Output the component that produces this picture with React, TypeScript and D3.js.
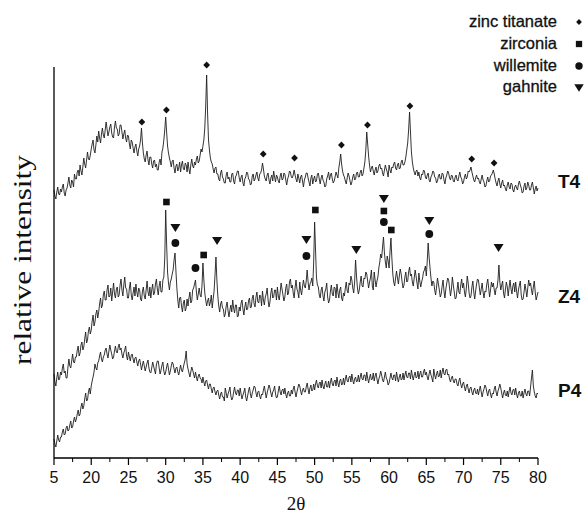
import React from 'react';
import * as d3 from 'd3';

// 2θ grid of the recorded traces
const THETA_START = 15;
const THETA_STEP = 0.125;

// Relative intensity (arbitrary units, traces already stacked), 8 samples per degree
const t4Values = [
  268, 262, 259, 266, 271, 264, 263, 269,
  266, 271, 274, 265, 262, 268, 270, 275,
  281, 273, 270, 278, 276, 271, 284, 279,
  279, 286, 288, 282, 293, 287, 283, 291,
  300, 294, 290, 298, 306, 299, 298, 303,
  309, 314, 318, 308, 305, 313, 322, 316,
  327, 320, 315, 324, 330, 323, 320, 328,
  336, 329, 322, 326, 331, 334, 325, 321,
  320, 331, 337, 330, 329, 322, 324, 333,
  333, 326, 319, 324, 328, 320, 316, 323,
  322, 314, 309, 318, 316, 310, 305, 311,
  314, 307, 302, 309, 312, 318, 330, 315,
  305, 299, 296, 303, 307, 298, 293, 301,
  301, 294, 290, 297, 298, 291, 294, 288,
  288, 296, 299, 293, 306, 310, 318, 328,
  341, 326, 312, 305, 300, 296, 291, 297,
  298, 290, 285, 292, 294, 287, 290, 296,
  286, 293, 297, 289, 288, 295, 293, 286,
  296, 289, 284, 293, 299, 292, 290, 296,
  293, 299, 302, 295, 297, 303, 309, 306,
  312, 318, 330, 352, 383, 345, 318, 308,
  300, 296, 294, 289, 285, 290, 291, 284,
  284, 279, 277, 285, 288, 281, 279, 275,
  275, 283, 286, 279, 281, 276, 276, 284,
  285, 277, 274, 281, 283, 287, 287, 280,
  276, 281, 283, 275, 272, 279, 281, 286,
  285, 279, 278, 273, 274, 282, 284, 277,
  279, 283, 286, 280, 277, 284, 285, 288,
  295, 289, 282, 279, 277, 283, 285, 278,
  274, 280, 283, 277, 287, 281, 276, 283,
  281, 277, 275, 282, 285, 278, 279, 285,
  284, 278, 273, 279, 282, 287, 286, 281,
  280, 283, 288, 283, 279, 276, 284, 280,
  275, 281, 283, 277, 271, 278, 281, 285,
  285, 280, 276, 272, 280, 283, 274, 279,
  282, 276, 277, 284, 285, 279, 274, 280,
  283, 278, 276, 271, 272, 279, 282, 286,
  278, 283, 285, 279, 275, 277, 281, 286,
  283, 280, 290, 296, 304, 294, 287, 283,
  281, 277, 274, 280, 285, 282, 277, 273,
  276, 281, 284, 278, 279, 285, 286, 281,
  281, 286, 288, 282, 284, 290, 296, 308,
  326, 314, 302, 293, 286, 290, 292, 287,
  283, 288, 291, 285, 287, 292, 294, 289,
  290, 285, 282, 288, 293, 289, 286, 281,
  293, 288, 285, 291, 290, 294, 296, 290,
  288, 293, 295, 289, 290, 296, 298, 293,
  293, 296, 301, 308, 315, 328, 346, 326,
  306, 296, 290, 286, 283, 287, 288, 282,
  286, 280, 278, 284, 283, 288, 287, 281,
  279, 283, 285, 278, 276, 281, 283, 287,
  286, 281, 280, 275, 277, 282, 284, 279,
  279, 285, 284, 278, 274, 280, 283, 287,
  285, 280, 278, 283, 282, 277, 276, 281,
  283, 278, 277, 282, 286, 281, 279, 274,
  276, 281, 284, 279, 281, 287, 286, 288,
  291, 286, 282, 278, 276, 280, 283, 279,
  280, 276, 274, 279, 283, 278, 276, 271,
  272, 277, 281, 276, 277, 282, 283, 285,
  288, 284, 279, 275, 272, 277, 280, 274,
  270, 275, 278, 272, 273, 269, 267, 273,
  276, 271, 269, 275, 274, 268, 266, 271,
  273, 270, 268, 274, 277, 273, 270, 265,
  266, 272, 275, 268, 270, 276, 273, 268,
  268, 273, 276, 270, 264, 269, 272, 267,
  270,
];

const z4Values = [
  84, 76, 72, 80, 86, 78, 79, 86,
  83, 90, 94, 85, 87, 80, 80, 91,
  99, 92, 90, 97, 104, 96, 95, 101,
  101, 108, 112, 102, 105, 113, 116, 108,
  111, 119, 126, 115, 118, 127, 131, 124,
  128, 137, 143, 132, 136, 144, 148, 140,
  146, 154, 160, 150, 153, 163, 167, 158,
  158, 168, 173, 161, 162, 170, 157, 166,
  175, 164, 160, 169, 171, 161, 163, 173,
  179, 168, 162, 173, 181, 170, 169, 160,
  160, 170, 176, 163, 158, 165, 171, 162,
  174, 166, 161, 170, 168, 159, 157, 167,
  171, 162, 159, 168, 177, 166, 162, 171,
  160, 168, 174, 163, 165, 174, 179, 169,
  163, 172, 177, 166, 166, 178, 181, 200,
  248, 214, 186, 175, 168, 176, 179, 184,
  188, 198, 205, 187, 170, 158, 150, 160,
  161, 152, 146, 155, 158, 147, 150, 159,
  152, 160, 166, 155, 157, 168, 170, 174,
  178, 166, 158, 164, 170, 163, 161, 172,
  195, 178, 165, 158, 152, 157, 160, 152,
  156, 163, 150, 159, 167, 183, 201, 178,
  162, 152, 146, 154, 157, 150, 149, 141,
  144, 152, 156, 147, 141, 148, 153, 146,
  158, 150, 145, 153, 153, 141, 142, 151,
  147, 155, 158, 149, 143, 151, 156, 148,
  149, 157, 160, 150, 151, 160, 163, 154,
  151, 161, 166, 156, 155, 163, 162, 152,
  167, 158, 153, 161, 164, 170, 158, 151,
  156, 165, 170, 160, 161, 168, 168, 158,
  171, 162, 158, 166, 175, 169, 163, 157,
  161, 170, 174, 163, 165, 176, 179, 170,
  173, 165, 160, 170, 178, 169, 166, 160,
  176, 168, 163, 171, 178, 172, 170, 177,
  188, 176, 168, 174, 176, 180, 172, 196,
  236, 208, 180, 173, 171, 163, 160, 168,
  171, 162, 157, 166, 169, 175, 161, 155,
  158, 167, 173, 164, 162, 171, 170, 160,
  174, 166, 160, 168, 171, 160, 157, 165,
  162, 170, 176, 167, 165, 175, 173, 182,
  178, 170, 165, 176, 198, 182, 170, 164,
  168, 176, 182, 172, 171, 180, 179, 186,
  184, 177, 170, 176, 180, 188, 172, 168,
  186, 178, 171, 177, 181, 190, 196, 204,
  200, 211, 221, 205, 196, 190, 202, 197,
  190, 206, 220, 200, 184, 176, 172, 180,
  187, 180, 174, 182, 189, 184, 176, 170,
  173, 181, 186, 176, 177, 186, 191, 182,
  184, 176, 172, 180, 188, 182, 175, 169,
  185, 177, 171, 176, 180, 186, 188, 192,
  182, 197, 215, 201, 190, 180, 172, 177,
  176, 168, 163, 171, 180, 174, 168, 161,
  164, 172, 178, 167, 160, 169, 175, 180,
  178, 170, 162, 169, 181, 173, 166, 159,
  160, 168, 176, 166, 164, 173, 179, 170,
  175, 166, 161, 170, 182, 175, 165, 160,
  162, 171, 177, 166, 159, 167, 174, 179,
  178, 170, 163, 169, 175, 166, 160, 167,
  166, 174, 179, 170, 161, 168, 176, 171,
  175, 168, 163, 170, 170, 178, 193, 176,
  168, 173, 177, 165, 160, 169, 176, 171,
  162, 171, 178, 169, 164, 172, 175, 166,
  176, 167, 160, 168, 173, 177, 163, 158,
  159, 166, 174, 168, 161, 170, 178, 172,
  175, 168, 163, 171, 177, 166, 158, 162,
  166,
];

const p4Values = [
  19, 14, 11, 17, 23, 18, 16, 21,
  21, 26, 29, 23, 24, 30, 32, 27,
  28, 33, 37, 30, 31, 37, 41, 36,
  39, 44, 48, 42, 44, 51, 55, 49,
  52, 59, 65, 57, 58, 66, 70, 64,
  72, 77, 81, 86, 94, 90, 88, 95,
  97, 102, 106, 99, 96, 101, 103, 108,
  110, 104, 100, 107, 113, 108, 104, 99,
  101, 107, 112, 106, 105, 111, 114, 108,
  110, 104, 100, 105, 108, 112, 102, 98,
  106, 101, 97, 103, 104, 99, 95, 100,
  101, 96, 92, 97, 99, 94, 88, 93,
  97, 92, 87, 91, 95, 98, 90, 86,
  85, 90, 96, 92, 88, 84, 93, 97,
  97, 90, 84, 88, 93, 96, 87, 83,
  86, 91, 95, 89, 83, 87, 92, 96,
  94, 89, 85, 90, 91, 86, 83, 88,
  93, 88, 86, 91, 95, 99, 107, 94,
  89, 85, 81, 86, 91, 88, 84, 80,
  86, 81, 77, 82, 84, 80, 79, 75,
  81, 76, 72, 77, 78, 73, 69, 74,
  74, 69, 65, 70, 71, 66, 63, 67,
  68, 63, 59, 64, 66, 61, 61, 57,
  70, 65, 60, 64, 67, 71, 62, 58,
  60, 66, 71, 65, 63, 68, 68, 62,
  70, 64, 59, 63, 66, 70, 61, 57,
  62, 67, 71, 64, 60, 65, 68, 72,
  71, 65, 61, 66, 67, 62, 59, 64,
  63, 68, 72, 66, 60, 65, 69, 73,
  70, 65, 61, 66, 68, 72, 64, 60,
  61, 67, 72, 66, 63, 68, 69, 64,
  70, 64, 60, 65, 67, 62, 62, 68,
  64, 69, 72, 66, 61, 66, 70, 74,
  72, 67, 63, 68, 70, 66, 66, 71,
  75, 69, 64, 70, 73, 67, 68, 74,
  68, 74, 78, 72, 70, 75, 76, 70,
  78, 72, 69, 74, 77, 71, 71, 77,
  70, 76, 80, 74, 72, 77, 78, 72,
  81, 75, 71, 77, 79, 73, 74, 80,
  73, 79, 83, 77, 76, 81, 82, 76,
  84, 78, 74, 79, 81, 76, 77, 83,
  76, 81, 85, 79, 78, 83, 83, 77,
  86, 80, 75, 80, 84, 78, 79, 85,
  77, 82, 85, 79, 74, 79, 82, 87,
  83, 78, 76, 81, 86, 80, 78, 73,
  75, 80, 85, 80, 78, 83, 83, 77,
  86, 80, 76, 81, 84, 78, 79, 85,
  78, 83, 87, 81, 80, 85, 85, 79,
  88, 82, 78, 83, 86, 80, 81, 87,
  79, 84, 87, 81, 81, 86, 89, 83,
  86, 81, 78, 84, 88, 83, 80, 76,
  89, 83, 79, 84, 87, 81, 82, 88,
  80, 86, 90, 84, 83, 88, 89, 83,
  84, 79, 76, 80, 82, 77, 75, 79,
  79, 74, 72, 77, 80, 74, 70, 74,
  76, 71, 67, 72, 74, 69, 65, 70,
  71, 66, 63, 68, 70, 65, 64, 69,
  63, 68, 72, 66, 61, 66, 69, 73,
  71, 66, 62, 67, 69, 64, 60, 65,
  64, 69, 72, 66, 62, 67, 70, 74,
  70, 65, 60, 65, 68, 63, 62, 67,
  61, 67, 71, 65, 63, 68, 69, 63,
  70, 64, 60, 65, 67, 62, 62, 67,
  60, 65, 69, 64, 62, 67, 67, 62,
  71, 80, 88, 72, 66, 62, 60, 65,
  64,
];

const seriesNames = ['T4', 'Z4', 'P4'];

// Phase markers: 2θ and intensity level of each symbol
const zincTitanateTheta = [26.8, 30.1, 35.5, 43.1, 47.3, 53.6, 57.1, 62.8, 71.1, 74.1];
const zincTitanateLevel = [336, 348, 393, 304, 300, 313, 333, 352, 299, 295];
const zirconiaTheta = [30.1, 35.1, 50.1, 59.3, 60.3];
const zirconiaLevel = [256, 203, 248, 247, 228];
const willemiteTheta = [31.3, 34.0, 48.9, 59.3, 65.4];
const willemiteLevel = [215, 190, 202, 236, 224];
const gahniteTheta = [31.3, 36.9, 48.9, 55.6, 59.3, 65.4, 74.7];
const gahniteLevel = [230, 217, 218, 208, 259, 237, 210];

const legendLabels = ['zinc titanate', 'zirconia', 'willemite', 'gahnite'];

const tickValues = [15, 20, 25, 30, 35, 40, 45, 50, 55, 60, 65, 70, 75, 80];
const tickLabels = ['5', '20', '25', '30', '35', '40', '45', '50', '55', '60', '65', '70', '75', '80'];

const W = 587;
const H = 513;
const SANS = 'Arial, "Liberation Sans", Helvetica, sans-serif';
const SERIF = '"Liberation Serif", "Times New Roman", "DejaVu Serif", serif';

type Kind = 'diamond' | 'square' | 'circle' | 'triangle';

function Marker({ kind, cx, cy, scale = 1 }: { kind: Kind; cx: number; cy: number; scale?: number }) {
  if (kind === 'diamond') {
    const w = 3.4 * scale, h = 3.6 * scale;
    return <path d={`M${cx},${cy - h}L${cx + w},${cy}L${cx},${cy + h}L${cx - w},${cy}Z`} fill="#111" />;
  }
  if (kind === 'square') {
    const s = 3.3 * scale;
    return <rect x={cx - s} y={cy - s} width={2 * s} height={2 * s} fill="#111" />;
  }
  if (kind === 'circle') {
    return <circle cx={cx} cy={cy} r={3.9 * scale} fill="#111" />;
  }
  const w = 5 * scale, h = 4 * scale;
  return <path d={`M${cx - w},${cy - h}L${cx + w},${cy - h}L${cx},${cy + h}Z`} fill="#111" />;
}

export default function App() {
  const x = d3.scaleLinear().domain([15, 80]).range([54, 538]);
  const y = d3.scaleLinear().domain([0, 391]).range([458, 67]);

  const line = d3
    .line<number>()
    .x((_, i) => x(THETA_START + i * THETA_STEP))
    .y((v) => y(v));

  const series = [t4Values, z4Values, p4Values];
  const labelLevels = [277, 162, 68];

  const groups: { kind: Kind; theta: number[]; level: number[] }[] = [
    { kind: 'diamond', theta: zincTitanateTheta, level: zincTitanateLevel },
    { kind: 'square', theta: zirconiaTheta, level: zirconiaLevel },
    { kind: 'circle', theta: willemiteTheta, level: willemiteLevel },
    { kind: 'triangle', theta: gahniteTheta, level: gahniteLevel },
  ];

  const minorTicks = d3.range(17.5, 80, 5);
  const legendKinds: Kind[] = ['diamond', 'square', 'circle', 'triangle'];

  return (
    <svg width={W} height={H} style={{ position: 'absolute', left: 0, top: 0, background: '#fff' }}>
      <rect width={W} height={H} fill="#fff" />
      {/* traces */}
      {series.map((vals, i) => (
        <path key={i} d={line(vals) || ''} fill="none" stroke="#1e1e1e" strokeWidth={0.9} strokeLinejoin="round" />
      ))}
      {/* axes */}
      <line x1={54} y1={67} x2={54} y2={458} stroke="#000" strokeWidth={1.3} />
      <line x1={54} y1={458} x2={538} y2={458} stroke="#000" strokeWidth={1.3} />
      {tickValues.map((t, i) => (
        <g key={t}>
          <line x1={x(t)} x2={x(t)} y1={458} y2={465} stroke="#000" strokeWidth={1.2} />
          <text x={x(t)} y={483} textAnchor="middle" fontFamily={SANS} fontSize={16} fill="#111">
            {tickLabels[i]}
          </text>
        </g>
      ))}
      {minorTicks.map((t) => (
        <line key={t} x1={x(t)} x2={x(t)} y1={458} y2={462} stroke="#000" strokeWidth={1} />
      ))}
      {/* axis titles */}
      <text x={296} y={510} textAnchor="middle" fontFamily={SERIF} fontSize={19} fill="#111">
        2θ
      </text>
      <text
        transform="translate(31,260) rotate(-90)"
        textAnchor="middle"
        fontFamily={SERIF}
        fontSize={25}
        fill="#111"
        textLength={210}
        lengthAdjust="spacingAndGlyphs"
      >
        relative intensity
      </text>
      {/* series labels */}
      {seriesNames.map((n, i) => (
        <text key={n} x={558} y={y(labelLevels[i]) + 7} fontFamily={SANS} fontWeight="bold" fontSize={19} fill="#111">
          {n}
        </text>
      ))}
      {/* phase markers */}
      {groups.map((g) =>
        g.theta.map((t, j) => <Marker key={g.kind + j} kind={g.kind} cx={x(t)} cy={y(g.level[j])} />)
      )}
      {/* legend */}
      {legendLabels.map((l, i) => (
        <g key={l}>
          <text
            x={557}
            y={27 + i * 21.8}
            textAnchor="end"
            fontFamily={SANS}
            fontSize={16.5}
            fill="#111"
            stroke="#111"
            strokeWidth={0.3}
          >
            {l}
          </text>
          <Marker kind={legendKinds[i]} cx={579} cy={22 + i * 22} scale={i === 0 ? 0.85 : 0.95} />
        </g>
      ))}
    </svg>
  );
}
